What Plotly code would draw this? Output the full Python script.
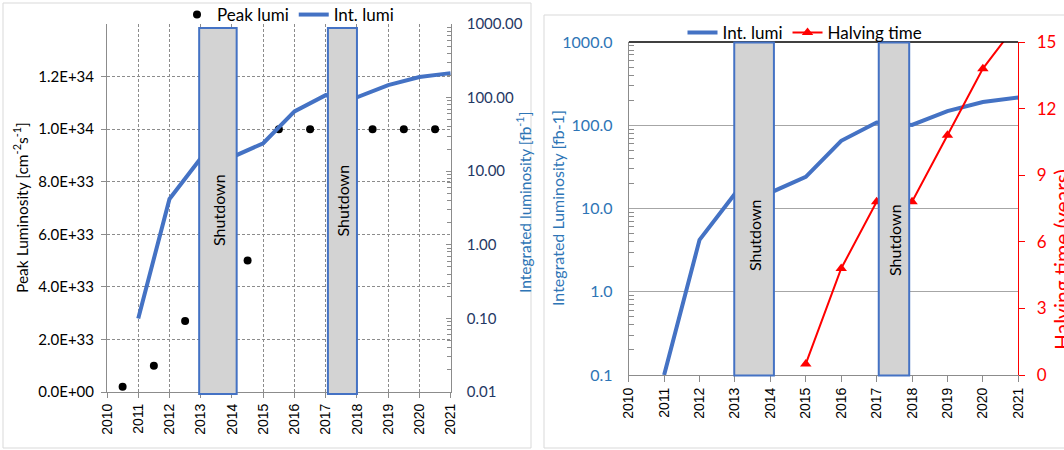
import plotly.graph_objects as go

# ---------------- data ----------------
years = list(range(2010, 2022))
year_labels = [str(y) for y in years]

peak_years = [2010.5, 2011.5, 2012.5, 2014.5, 2015.5, 2016.5, 2018.5, 2019.5, 2020.5]
peak_lumi = [2.0e32, 1.0e33, 2.7e33, 5.0e33, 1.0e34, 1.0e34, 1.0e34, 1.0e34, 1.0e34]

int_years = [2011, 2012, 2013, 2014, 2015, 2016, 2017, 2018, 2019, 2020, 2021]
int_lumi = [0.1, 4.2, 15, 15.5, 24, 65, 108, 101, 148, 190, 215]

halving_years = [2015, 2016, 2017, 2018, 2019, 2020, 2021]
halving_time = [0.5, 4.8, 7.8, 7.8, 10.8, 13.8, 15.9]

peak_tickvals = [0, 2e33, 4e33, 6e33, 8e33, 1e34, 1.2e34]
peak_ticktext = ["0.0E+00", "2.0E+33", "4.0E+33", "6.0E+33", "8.0E+33", "1.0E+34", "1.2E+34"]

shutdowns_left = [(2012.95, 2014.15), (2017.07, 2018.0)]
shutdowns_right = [(2012.98, 2014.1), (2017.06, 2017.92)]

# ---------------- helpers ----------------
W, H = 1064, 450
def px(x):
    return x / W
def py(y):
    return 1 - y / H

BLUE = "#4472C4"
TBLUE = "#2E75B6"
NAVY = "#1F3864"
GRID = "#8c8c8c"
AX = "#8c8c8c"
FONT = "Lato"

fig = go.Figure()

fig.add_trace(go.Scatter(x=peak_years, y=peak_lumi, mode="markers",
                         marker=dict(color="black", size=8),
                         name="Peak lumi", xaxis="x", yaxis="y", legend="legend"))
fig.add_trace(go.Scatter(x=int_years, y=int_lumi, mode="lines",
                         line=dict(color=BLUE, width=4),
                         name="Int. lumi", xaxis="x", yaxis="y2", legend="legend"))
fig.add_trace(go.Scatter(x=int_years, y=int_lumi, mode="lines",
                         line=dict(color=BLUE, width=4),
                         name="Int. lumi", xaxis="x2", yaxis="y3", legend="legend2"))
fig.add_trace(go.Scatter(x=halving_years, y=halving_time, mode="lines+markers",
                         line=dict(color="#FF0000", width=2),
                         marker=dict(symbol="triangle-up", size=10, color="#FF0000"),
                         name="Halving time", xaxis="x2", yaxis="y4", legend="legend2"))

xtickfont = dict(family="Liberation Sans", size=14, color="black")

shapes = []
# panel borders
shapes.append(dict(type="rect", xref="paper", yref="paper", x0=px(3), x1=px(531),
                   y0=py(448), y1=py(3), line=dict(color="#d9d9d9", width=1), layer="below"))
shapes.append(dict(type="rect", xref="paper", yref="paper", x0=px(544), x1=px(1075),
                   y0=py(448), y1=py(15), line=dict(color="#d9d9d9", width=1), layer="below"))
# top black border of right plot
shapes.append(dict(type="line", xref="x2", yref="paper", x0=2010, x1=2021,
                   y0=py(42), y1=py(42), line=dict(color="black", width=1.3)))

annotations = []
for (a, b) in shutdowns_left:
    shapes.append(dict(type="rect", xref="x", yref="paper", x0=a, x1=b,
                       y0=py(394), y1=py(28), fillcolor="#d3d3d3",
                       line=dict(color=BLUE, width=2), layer="above"))
for (a, b) in shutdowns_right:
    shapes.append(dict(type="rect", xref="x2", yref="paper", x0=a, x1=b,
                       y0=py(375.5), y1=py(42.5), fillcolor="#d3d3d3",
                       line=dict(color=BLUE, width=2), layer="above"))

sd_font = dict(family=FONT, size=16, color="black")
def centered(**kw):
    d = dict(showarrow=False, xanchor="center", yanchor="middle")
    d.update(kw)
    return d

annotations.append(centered(text="Shutdown", xref="x", yref="paper", x=(shutdowns_left[0][0] + shutdowns_left[0][1]) / 2,
                            y=py(210), textangle=-90, font=sd_font))
annotations.append(centered(text="Shutdown", xref="x", yref="paper", x=(shutdowns_left[1][0] + shutdowns_left[1][1]) / 2,
                            y=py(200), textangle=-90, font=sd_font))
annotations.append(centered(text="Shutdown", xref="x2", yref="paper", x=(shutdowns_right[0][0] + shutdowns_right[0][1]) / 2,
                            y=py(235), textangle=-90, font=sd_font))
annotations.append(centered(text="Shutdown", xref="x2", yref="paper", x=(shutdowns_right[1][0] + shutdowns_right[1][1]) / 2,
                            y=py(240), textangle=-90, font=sd_font))

# axis titles
annotations.append(centered(text="Peak Luminosity [cm<sup>-2</sup>s<sup>-1</sup>]", xref="paper", yref="paper",
                            x=px(20), y=py(208), textangle=-90,
                            font=dict(family=FONT, size=15.5, color="black")))
annotations.append(centered(text="Integrated luminosity [fb<sup>-1</sup>]", xref="paper", yref="paper",
                            x=px(523), y=py(203), textangle=-90,
                            font=dict(family=FONT, size=15.5, color=TBLUE)))
annotations.append(centered(text="Integrated Luminosity [fb-1]", xref="paper", yref="paper",
                            x=px(557), y=py(208), textangle=-90,
                            font=dict(family=FONT, size=16, color=TBLUE)))
annotations.append(centered(text="Halving time (years)", xref="paper", yref="paper",
                            x=px(1061), y=py(260), textangle=-90,
                            font=dict(family=FONT, size=21, color="#FF0000")))

fig.update_layout(
    width=W, height=H,
    margin=dict(l=0, r=0, t=0, b=0, autoexpand=False),
    paper_bgcolor="white", plot_bgcolor="white",
    font=dict(family=FONT, size=15, color="black"),
    shapes=shapes, annotations=annotations,
    xaxis=dict(domain=[px(107), px(450.7)], range=[2010, 2021], anchor="y",
               tickmode="array", tickvals=years, ticktext=year_labels, tickangle=-90,
               tickfont=xtickfont, ticks="outside", ticklen=5, tickcolor=AX,
               showline=True, linecolor=AX, linewidth=1,
               showgrid=True, gridcolor=GRID, griddash="3px,2px", gridwidth=1, zeroline=False),
    yaxis=dict(domain=[py(392), py(24)], range=[0, 1.4e34], anchor="x",
               tickmode="array", tickvals=peak_tickvals, ticktext=peak_ticktext,
               ticks="outside", ticklen=5, tickcolor=AX, ticklabelstandoff=4,
               showline=True, linecolor=AX, showgrid=True, gridcolor=GRID,
               griddash="3px,2px", zeroline=False,
               tickfont=dict(family=FONT, size=15, color="black")),
    yaxis2=dict(overlaying="y", side="right", anchor="x", type="log", range=[-2, 3],
                tickmode="linear", tick0=0, dtick=1, tickformat=".2f",
                ticks="inside", ticklen=5, tickcolor=AX, ticklabelstandoff=12,
                minor=dict(ticks="inside", ticklen=4, tickcolor=AX, dtick="D1", showgrid=False),
                showline=True, linecolor=AX, showgrid=False, zeroline=False,
                tickfont=dict(family=FONT, size=15, color=NAVY)),
    xaxis2=dict(domain=[px(628.7), px(1018.3)], range=[2010, 2021], anchor="y3",
                tickmode="array", tickvals=years, ticktext=year_labels, tickangle=-90,
                tickfont=xtickfont, ticks="outside", ticklen=6, tickcolor=AX,
                showline=True, linecolor=AX, showgrid=False, zeroline=False),
    yaxis3=dict(domain=[py(375), py(42)], anchor="x2", type="log", range=[-1, 3],
                tickmode="linear", tick0=0, dtick=1, tickformat=".1f",
                ticks="", ticklabelstandoff=12,
                minor=dict(ticks="inside", ticklen=5, tickcolor=AX, dtick="D1", showgrid=False),
                showline=True, linecolor=AX, showgrid=True, gridcolor="#a6a6a6", zeroline=False,
                tickfont=dict(family=FONT, size=16, color=TBLUE)),
    yaxis4=dict(overlaying="y3", side="right", anchor="x2", range=[0, 15],
                tickmode="linear", tick0=0, dtick=3,
                ticks="outside", ticklen=6, tickcolor="#FF0000", ticklabelstandoff=8,
                showline=True, linecolor="#FF0000", showgrid=False, zeroline=False,
                tickfont=dict(family=FONT, size=17, color="#FF0000")),
    legend=dict(orientation="h", x=px(288), y=py(15), xanchor="center", yanchor="middle",
                bgcolor="rgba(0,0,0,0)", itemwidth=30, font=dict(family=FONT, size=17, color="black"),
                tracegroupgap=0),
    legend2=dict(orientation="h", x=px(805), y=py(33), xanchor="center", yanchor="middle",
                 bgcolor="rgba(0,0,0,0)", itemwidth=30, font=dict(family=FONT, size=17, color="black")),
)

fig.write_html("out.html", config={"displayModeBar": False},
               post_script="document.body.style.margin='0px';document.body.style.overflow='hidden';")
